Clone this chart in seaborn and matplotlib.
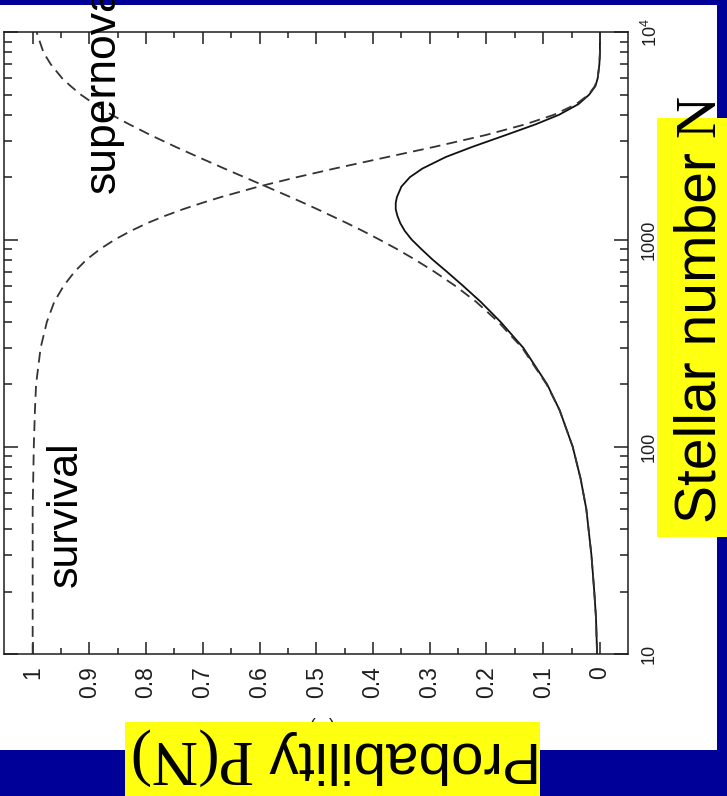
import numpy as np
import pandas as pd
import matplotlib
matplotlib.use("Agg")
import matplotlib.pyplot as plt
from matplotlib.patches import Rectangle
from matplotlib.ticker import LogLocator, NullFormatter
import seaborn as sns

# Stellar number N of the cluster
stellar_number = [10, 15, 20, 30, 50, 70, 100, 150, 200, 300, 400, 500, 600, 700,
                  800, 900, 1000, 1100, 1200, 1300, 1400, 1500, 1600, 1800, 2000,
                  2200, 2500, 2800, 3200, 3600, 4000, 4500, 5000, 5500, 6000,
                  7000, 8000, 10000]

# Probability that the disk survives
p_survival = [1.000, 1.000, 1.000, 1.000, 1.000, 0.999, 0.998, 0.996, 0.994, 0.986,
              0.975, 0.962, 0.945, 0.926, 0.905, 0.881, 0.855, 0.827, 0.798, 0.767,
              0.735, 0.702, 0.669, 0.602, 0.534, 0.468, 0.375, 0.292, 0.200, 0.131,
              0.081, 0.042, 0.020, 0.009, 0.004, 0.001, 0.000, 0.000]

# Probability of a supernova in the cluster
p_supernova = [0.005, 0.007, 0.010, 0.015, 0.024, 0.034, 0.048, 0.071, 0.094, 0.137,
               0.179, 0.218, 0.256, 0.292, 0.326, 0.358, 0.389, 0.418, 0.446, 0.473,
               0.498, 0.522, 0.545, 0.588, 0.627, 0.662, 0.708, 0.748, 0.793, 0.830,
               0.861, 0.891, 0.915, 0.933, 0.948, 0.968, 0.981, 0.993]

# Joint probability P(N)
p_joint = [0.005, 0.007, 0.010, 0.015, 0.024, 0.034, 0.048, 0.071, 0.093, 0.135,
           0.175, 0.210, 0.242, 0.270, 0.295, 0.315, 0.332, 0.344, 0.352, 0.357,
           0.360, 0.360, 0.358, 0.350, 0.335, 0.313, 0.272, 0.225, 0.165, 0.113,
           0.072, 0.038, 0.019, 0.008, 0.004, 0.001, 0.000, 0.000]

prob_ticks = [1.0, 0.9, 0.8, 0.7, 0.6, 0.5, 0.4, 0.3, 0.2, 0.1, 0.0]
prob_labels = ["1", "0.9", "0.8", "0.7", "0.6", "0.5", "0.4", "0.3", "0.2", "0.1", "0"]
n_ticks = [10, 100, 1000, 10000]
n_labels = ["10", "100", "1000", r"$10^4$"]

sns.set_theme(style="ticks")
plt.rcParams["font.family"] = ["Liberation Sans", "DejaVu Sans"]
plt.rcParams["mathtext.fontset"] = "custom"
plt.rcParams["mathtext.rm"] = "Liberation Sans"
plt.rcParams["mathtext.it"] = "Liberation Sans:italic"

W, H = 727, 796
BLUE = "#000099"
YELLOW = "#ffff10"
INK = "#1e1e1e"


def fx(px):
    return px / W


def fy(py):
    return 1 - py / H


fig = plt.figure(figsize=(W / 100, H / 100), dpi=100, facecolor=BLUE)

# white sheet behind the plot
fig.add_artist(Rectangle((0, fy(750)), fx(717), fy(5) - fy(750),
                         transform=fig.transFigure, facecolor="white",
                         edgecolor="none", zorder=-2))

ax = fig.add_axes([fx(4.3), fy(654), fx(628.3) - fx(4.3), fy(32.3) - fy(654)])
ax.set_facecolor("white")

df = pd.DataFrame({"N": stellar_number, "survival": p_survival,
                   "supernova": p_supernova, "joint": p_joint})

sns.lineplot(data=df, x="joint", y="N", sort=False, estimator=None, ax=ax,
             color="#111111", linewidth=1.3)
sns.lineplot(data=df, x="supernova", y="N", sort=False, estimator=None, ax=ax,
             color="#333333", linewidth=1.3, linestyle=(0, (6, 3.5)))
sns.lineplot(data=df, x="survival", y="N", sort=False, estimator=None, ax=ax,
             color="#333333", linewidth=1.3, linestyle=(0, (6, 3.5)))

ax.set_yscale("log")
ax.set_ylim(10, 1e4)
ax.set_xlim(1.05, -0.05)
ax.set_xlabel("")
ax.set_ylabel("")

ax.set_xticks(prob_ticks, labels=prob_labels)
ax.set_xticks(np.arange(0.05, 1.0, 0.1), minor=True)
ax.set_yticks(n_ticks, labels=n_labels)
ax.yaxis.set_minor_locator(LogLocator(base=10, subs=range(2, 10)))
ax.yaxis.set_minor_formatter(NullFormatter())

ax.tick_params(axis="both", which="both", direction="in", color=INK, width=1.1,
               top=True, bottom=True, left=True, right=True,
               labeltop=False, labelbottom=True, labelleft=False, labelright=True,
               labelcolor=INK)
ax.tick_params(axis="x", which="major", length=8.6, labelrotation=90,
               labelsize=16.5, pad=9)
ax.tick_params(axis="x", which="minor", length=4.3)
ax.tick_params(axis="y", which="major", length=10, labelrotation=90,
               labelsize=13, pad=9)
ax.tick_params(axis="y", which="minor", length=5.5)
for lbl in ax.get_yticklabels():
    lbl.set_verticalalignment("center")

for s in ax.spines.values():
    s.set_linewidth(1.1)
    s.set_color(INK)
    s.set_visible(True)

# curve names
fig.text(fx(66), fy(587), "survival", rotation=90, ha="center", va="bottom",
         fontsize=31, color="black")
fig.text(fx(103), fy(193), "supernova", rotation=90, ha="center", va="bottom",
         fontsize=32, color="black")

# original axis label, partly covered by the caption box
fig.text(fx(325), fy(724), "P(N)", rotation=180, ha="center", va="center",
         fontsize=13, color=INK, zorder=0.5)

# caption boxes
fig.add_artist(Rectangle((fx(657), fy(537)), fx(727) - fx(657), fy(118) - fy(537),
                         transform=fig.transFigure, facecolor=YELLOW,
                         edgecolor="none", zorder=1))
fig.add_artist(Rectangle((fx(125), fy(796)), fx(540) - fx(125), fy(722) - fy(796),
                         transform=fig.transFigure, facecolor=YELLOW,
                         edgecolor="none", zorder=1))

fig.text(fx(700), fy(523), "Stellar number", rotation=90, ha="center", va="bottom",
         fontsize=41, color="black")
fig.text(fx(700), fy(95), "N", rotation=90, ha="center", va="top",
         fontsize=42, color="black", family=["Liberation Serif", "DejaVu Serif"])

fig.text(fx(532), fy(757), "Probability", rotation=180, ha="right", va="center",
         fontsize=42, color="black")
fig.text(fx(127), fy(757), "P(N)", rotation=180, ha="left", va="center",
         fontsize=46, color="black", family=["Liberation Serif", "DejaVu Serif"])

fig.savefig("out.png", dpi=100, facecolor=BLUE)
